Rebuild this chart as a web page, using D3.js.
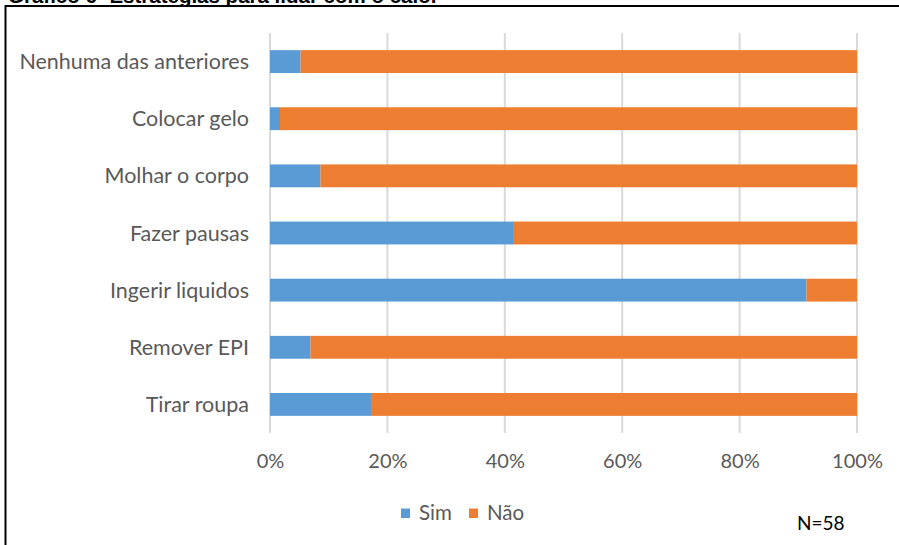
<!DOCTYPE html>
<html><head><meta charset="utf-8">
<script src="https://cdn.jsdelivr.net/npm/d3@7"></script>
<style>html,body{margin:0;padding:0;background:#fff;overflow:hidden}</style>
</head><body>
<svg id="c" width="899" height="545"></svg>
<script>
const categories = ["Nenhuma das anteriores","Colocar gelo","Molhar o corpo","Fazer pausas","Ingerir liquidos","Remover EPI","Tirar roupa"];
const simValues = [5.2, 1.7, 8.6, 41.4, 91.4, 6.9, 17.2];
const naoValues = [94.8, 98.3, 91.4, 58.6, 8.6, 93.1, 82.8];
const seriesNames = ["Sim","Não"];
const tickValues = [0, 20, 40, 60, 80, 100];
const tickLabels = ["0%","20%","40%","60%","80%","100%"];
const titleText = "Gráfico 6- Estratégias para lidar com o calor";
const noteText = "N=58";

const colors = ["#5B9BD5", "#ED7D31"];
const svg = d3.select("#c");
const font = "Lato, 'Open Sans', sans-serif";

// frame
svg.append("rect").attr("x",5.5).attr("y",6).attr("width",1000).attr("height",1000)
  .attr("fill","none").attr("stroke","#000").attr("stroke-width",2);
// title (cut off at top, as in the reference)
svg.append("text").attr("x",8).attr("y",2.5).text(titleText)
  .attr("font-family","'Liberation Sans', Arial, sans-serif").attr("font-weight","bold")
  .attr("font-size",20.5).attr("fill","#000");

const x = d3.scaleLinear().domain([0,100]).range([270,857]);
const y = d3.scaleBand().domain(categories).range([33,433]).paddingInner(0.6).paddingOuter(0.3);

// gridlines
svg.append("g").selectAll("line").data(tickValues).join("line")
  .attr("x1",d=>x(d)).attr("x2",d=>x(d)).attr("y1",33).attr("y2",433)
  .attr("stroke","#D9D9D9").attr("stroke-width",2);

// stacked bars
const rows = categories.map((c,i)=>({cat:c, Sim:simValues[i], "Não":naoValues[i]}));
const stack = d3.stack().keys(seriesNames)(rows);
svg.append("g").selectAll("g").data(stack).join("g").attr("fill",(d,i)=>colors[i])
  .selectAll("rect").data(d=>d).join("rect")
  .attr("x",d=>x(d[0])).attr("width",d=>x(d[1])-x(d[0]))
  .attr("y",d=>y(d.data.cat)).attr("height",y.bandwidth());

// y labels
const yAxis = d3.axisLeft(y).tickSize(0).tickPadding(0);
const gy = svg.append("g").attr("transform","translate(249,0)").call(yAxis);
gy.select(".domain").remove();
gy.selectAll("text").attr("font-family",font).attr("font-size",21.5).attr("fill","#595959").attr("dy","0.35em");

// x labels
const xAxis = d3.axisBottom(x).tickValues(tickValues).tickFormat((d,i)=>tickLabels[i]).tickSize(0).tickPadding(0);
const gx = svg.append("g").attr("transform","translate(0,454)").call(xAxis);
gx.select(".domain").remove();
gx.selectAll("text").attr("font-family",font).attr("font-size",20).attr("fill","#595959").attr("dy","0.71em");

// legend
const legend = svg.append("g");
const legX = [401, 469];
seriesNames.forEach((s,i)=>{
  legend.append("rect").attr("x",legX[i]).attr("y",508.5).attr("width",9).attr("height",9.5).attr("fill",colors[i]);
  legend.append("text").attr("x",legX[i]+18).attr("y",520).text(s)
    .attr("font-family",font).attr("font-size",20.5).attr("fill","#595959");
});

// note
svg.append("text").attr("x",797).attr("y",530).text(noteText)
  .attr("font-family",font).attr("font-size",19).attr("fill","#000");
</script>
</body></html>
